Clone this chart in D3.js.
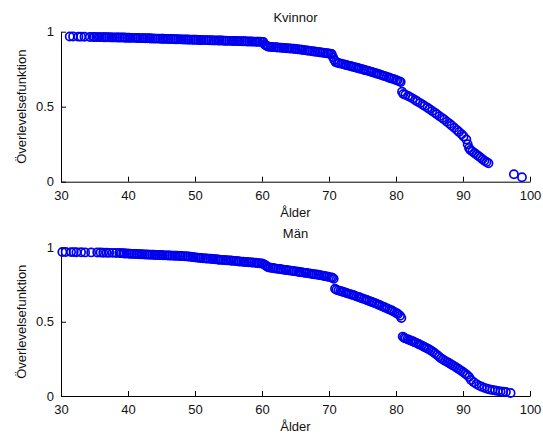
<!DOCTYPE html>
<html>
<head>
<meta charset="utf-8">
<script src="https://cdn.jsdelivr.net/npm/d3@7"></script>
<style>
  body { margin: 0; background: #fff; }
  svg text { font-family: "Liberation Sans", Arial, sans-serif; fill: #111; }
</style>
</head>
<body>
<script>
const width = 543;
const height = 438;

// Kvinnor (women): [age, survival]
const womenPoints = [
  [31.3, .968], [31.8, .968], [32.6, .967], [33.0, .967], [33.5, .966], [34.3, .965],
  [34.8, .965], [35.0, .965], [35.3, .964], [35.6, .964], [35.8, .964], [36.1, .964], [36.4, .963], [36.6, .963],
  [36.9, .963], [37.2, .963], [37.5, .962], [37.7, .962], [38.0, .962], [38.3, .962], [38.5, .961], [38.8, .961],
  [39.1, .961], [39.4, .961], [39.6, .960], [39.9, .960], [40.2, .960], [40.4, .959], [40.7, .959], [41.0, .959],
  [41.3, .958], [41.5, .958], [41.8, .957], [42.1, .957], [42.3, .957], [42.6, .956], [42.9, .956], [43.2, .956],
  [43.4, .955], [43.7, .955], [44.0, .954], [44.2, .954], [44.5, .954], [44.8, .953], [45.1, .953], [45.3, .953],
  [45.6, .952], [45.9, .952], [46.1, .951], [46.4, .951], [46.7, .951], [47.0, .950], [47.2, .950], [47.5, .950],
  [47.8, .949], [48.0, .949], [48.3, .948], [48.6, .948], [48.9, .948], [49.1, .947], [49.4, .947], [49.7, .946],
  [49.9, .946], [50.2, .946], [50.5, .945], [50.8, .945], [51.0, .945], [51.3, .944], [51.6, .944], [51.8, .944],
  [52.1, .943], [52.4, .943], [52.7, .942], [52.9, .942], [53.2, .942], [53.5, .941], [53.7, .941], [54.0, .941],
  [54.3, .940], [54.6, .940], [54.8, .939], [55.1, .939], [55.4, .939], [55.6, .938], [55.9, .938], [56.2, .938],
  [56.5, .937], [56.7, .937], [57.0, .936], [57.3, .936], [57.5, .936], [57.8, .935], [58.1, .935], [58.4, .935],
  [58.6, .934], [58.9, .934], [59.2, .933], [59.4, .933], [59.7, .933], [60.0, .932], [60.2, .932],
  [60.4, .915], [60.6, .908], [60.8, .903], [61.0, .900], [61.3, .899], [61.5, .898], [61.8, .897], [62.1, .896],
  [62.3, .895], [62.6, .894], [62.9, .893], [63.2, .892], [63.4, .891], [63.7, .890], [64.0, .889], [64.2, .888],
  [64.5, .887], [64.8, .886], [65.0, .885], [65.3, .883], [65.6, .882], [65.9, .880], [66.1, .879], [66.4, .877],
  [66.7, .875], [66.9, .874], [67.2, .872], [67.5, .870], [67.8, .868], [68.0, .867], [68.3, .865], [68.6, .863],
  [68.8, .862], [69.1, .860], [69.4, .858], [69.7, .856], [69.9, .855], [70.2, .853], [70.4, .851],
  [70.6, .830], [70.8, .812], [71.0, .796], [71.3, .793], [71.5, .790], [71.8, .787], [72.1, .784], [72.4, .780],
  [72.6, .778], [72.9, .774], [73.2, .771], [73.4, .768], [73.7, .765], [74.0, .761], [74.3, .758], [74.5, .755],
  [74.8, .752], [75.1, .748], [75.3, .745], [75.6, .742], [75.9, .738], [76.2, .734], [76.4, .731], [76.7, .727],
  [77.0, .723], [77.2, .720], [77.5, .716], [77.8, .712], [78.1, .707], [78.3, .704], [78.6, .700], [78.9, .695],
  [79.1, .692], [79.4, .687], [79.7, .683], [80.0, .678], [80.2, .674], [80.5, .669], [80.7, .664],
  [80.9, .600], [81.1, .585], [81.4, .580], [81.8, .572], [82.1, .564], [82.5, .554], [82.9, .543], [83.2, .535],
  [83.6, .524], [84.0, .513], [84.3, .504], [84.7, .493], [85.0, .484], [85.4, .472], [85.8, .460], [86.1, .450],
  [86.5, .437], [86.9, .424], [87.2, .414], [87.6, .400], [88.0, .386], [88.3, .375], [88.7, .360], [89.1, .344],
  [89.4, .332], [89.8, .316], [90.1, .302], [90.5, .282], [90.7, .250], [90.9, .225], [91.1, .212], [91.4, .202],
  [91.7, .192], [92.0, .182], [92.3, .172], [92.6, .161], [92.9, .150], [93.2, .140], [93.5, .131], [93.8, .123],
  [97.6, .050], [98.8, .030]
];

// Män (men): [age, survival]
const menPoints = [
  [30.2, .970], [30.7, .970], [31.5, .969], [31.9, .969], [32.3, .968], [33.0, .968], [33.6, .967], [34.5, .967],
  [35.4, .966], [35.9, .966], [36.3, .965], [36.8, .965], [37.2, .964], [37.7, .964], [38.2, .963], [38.7, .963],
  [39.0, .962], [39.3, .961], [39.5, .960], [39.8, .960], [40.1, .959], [40.3, .958], [40.6, .957], [40.9, .957],
  [41.2, .956], [41.4, .956], [41.7, .955], [42.0, .955], [42.2, .954], [42.5, .953], [42.8, .953], [43.1, .952],
  [43.3, .952], [43.6, .951], [43.9, .951], [44.1, .950], [44.4, .950], [44.7, .949], [45.0, .949], [45.2, .948],
  [45.5, .947], [45.8, .947], [46.0, .946], [46.3, .946], [46.6, .945], [46.9, .945], [47.1, .944], [47.4, .944],
  [47.7, .943], [47.9, .943], [48.2, .942], [48.5, .941], [48.8, .940], [49.0, .939], [49.3, .938], [49.6, .936],
  [49.8, .935], [50.1, .933], [50.4, .932], [50.7, .930], [50.9, .929], [51.2, .928], [51.5, .927], [51.7, .926],
  [52.0, .925], [52.3, .924], [52.6, .923], [52.8, .922], [53.1, .921], [53.4, .919], [53.6, .918], [53.9, .917],
  [54.2, .916], [54.5, .915], [54.7, .914], [55.0, .913], [55.3, .912], [55.5, .911], [55.8, .910], [56.1, .909],
  [56.4, .907], [56.6, .906], [56.9, .905], [57.2, .904], [57.4, .903], [57.7, .902], [58.0, .901], [58.3, .900],
  [58.5, .899], [58.8, .898], [59.1, .897], [59.3, .896], [59.6, .894], [59.9, .893], [60.1, .891],
  [60.4, .884], [60.6, .877], [60.8, .871], [61.0, .866], [61.3, .864], [61.6, .862], [61.8, .860], [62.1, .858],
  [62.4, .856], [62.7, .855], [62.9, .853], [63.2, .851], [63.5, .849], [63.7, .848], [64.0, .846], [64.3, .844],
  [64.6, .842], [64.8, .841], [65.1, .839], [65.4, .837], [65.6, .835], [65.9, .833], [66.2, .831], [66.5, .829],
  [66.7, .828], [67.0, .826], [67.3, .824], [67.5, .822], [67.8, .820], [68.1, .818], [68.4, .816], [68.6, .814],
  [68.9, .812], [69.2, .809], [69.4, .807], [69.7, .805], [70.0, .802], [70.3, .799], [70.5, .796], [70.7, .790],
  [70.9, .722], [71.1, .715], [71.4, .711], [71.7, .707], [71.9, .704], [72.2, .700], [72.5, .696], [72.7, .692],
  [73.0, .688], [73.3, .684], [73.6, .680], [73.8, .676], [74.1, .671], [74.4, .667], [74.6, .663], [74.9, .658],
  [75.2, .654], [75.5, .649], [75.7, .645], [76.0, .640], [76.3, .635], [76.5, .631], [76.8, .626], [77.1, .621],
  [77.4, .615], [77.6, .611], [77.9, .605], [78.2, .600], [78.4, .595], [78.7, .589], [79.0, .583], [79.3, .577],
  [79.5, .572], [79.8, .565], [80.1, .558], [80.3, .552], [80.6, .540], [80.8, .525],
  [81.0, .400], [81.2, .393], [81.4, .388], [81.7, .383], [81.9, .379], [82.2, .374], [82.5, .369], [82.7, .364],
  [83.0, .358], [83.3, .352], [83.5, .347], [83.8, .341], [84.1, .334], [84.3, .329], [84.6, .322], [84.9, .315],
  [85.2, .307], [85.5, .298], [85.8, .288], [86.1, .277], [86.4, .266], [86.7, .255], [87.0, .246], [87.3, .238],
  [87.6, .230], [87.9, .222], [88.2, .214], [88.5, .206], [88.8, .198], [89.1, .189], [89.4, .180], [89.7, .171],
  [90.0, .162], [90.3, .152], [90.6, .142], [90.9, .128], [91.2, .108], [91.6, .093], [92.0, .080], [92.4, .070],
  [92.8, .062], [93.2, .055], [93.6, .049], [94.0, .044], [94.4, .040], [94.8, .037], [95.2, .034], [95.6, .031],
  [96.0, .029], [96.4, .027], [97.1, .020]
];

const xTicks = [30, 40, 50, 60, 70, 80, 90, 100];
const yTicks = [0, 0.5, 1];

const xLabel = "Ålder";
const yLabel = "Överlevelsefunktion";

const panels = [
  { title: "Kvinnor", points: womenPoints, top: 31.7, bottom: 181.7 },
  { title: "Män", points: menPoints, top: 247.5, bottom: 396 }
];

const plotLeft = 61;
const plotRight = 530;

const svg = d3.select("body")
  .append("svg")
  .attr("width", width)
  .attr("height", height);

const scaleX = d3.scaleLinear()
  .domain([30, 100])
  .range([plotLeft, plotRight]);

panels.forEach(p => {
  const scaleY = d3.scaleLinear()
    .domain([0, 1])
    .range([p.bottom, p.top]);

  const g = svg.append("g");

  g.append("g")
    .attr("transform", `translate(0,${p.bottom})`)
    .call(d3.axisBottom(scaleX)
      .tickValues(xTicks)
      .tickFormat(d3.format("d"))
      .tickSizeInner(-5)
      .tickSizeOuter(0)
      .tickPadding(9))
    .call(a => a.selectAll("text").style("font-size", "13px"))
    .call(a => a.selectAll("line, path").attr("stroke", "#000"));

  g.append("g")
    .attr("transform", `translate(${plotLeft},0)`)
    .call(d3.axisLeft(scaleY)
      .tickValues(yTicks)
      .tickFormat(d => d === 0.5 ? "0.5" : d3.format("d")(d))
      .tickSizeInner(-5)
      .tickSizeOuter(0)
      .tickPadding(7))
    .call(a => a.selectAll("text").style("font-size", "13px"))
    .call(a => a.selectAll("line, path").attr("stroke", "#000"));

  g.selectAll("circle")
    .data(p.points)
    .enter()
    .append("circle")
    .attr("cx", d => scaleX(d[0]))
    .attr("cy", d => scaleY(d[1]))
    .attr("r", 4.1)
    .attr("fill", "none")
    .attr("stroke", "#0000ee")
    .attr("stroke-width", 1.7);

  g.append("text")
    .attr("x", (plotLeft + plotRight) / 2)
    .attr("y", p.top - 10)
    .attr("text-anchor", "middle")
    .style("font-size", "13px")
    .text(p.title);

  g.append("text")
    .attr("x", (plotLeft + plotRight) / 2)
    .attr("y", p.bottom + 35)
    .attr("text-anchor", "middle")
    .style("font-size", "13px")
    .text(xLabel);

  g.append("text")
    .attr("text-anchor", "middle")
    .attr("transform", `translate(26,${(p.top + p.bottom) / 2}) rotate(-90)`)
    .style("font-size", "13px")
    .text(yLabel);
});
</script>
</body>
</html>
